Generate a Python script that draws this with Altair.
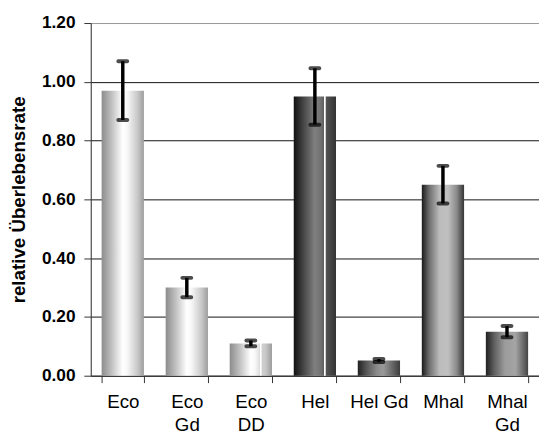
import altair as alt
import pandas as pd

# ---- data ----
categories = ["Eco", "Eco\nGd", "Eco\nDD", "Hel", "Hel Gd", "Mhal", "Mhal\nGd"]
values = [0.97, 0.30, 0.11, 0.95, 0.052, 0.65, 0.15]
errors = [0.10, 0.033, 0.010, 0.096, 0.005, 0.064, 0.019]
y_ticks = [0.0, 0.2, 0.4, 0.6, 0.8, 1.0, 1.2]

df = pd.DataFrame({
    "idx": list(range(len(categories))),
    "cat": categories,
    "val": values,
    "err": errors,
})
df["lo"] = df["val"] - df["err"]
df["hi"] = df["val"] + df["err"]


def grad(stops):
    return alt.Gradient(
        gradient="linear", x1=0, x2=1, y1=0, y2=0,
        stops=[alt.GradientStop(offset=o, color=c) for o, c in stops],
    )


light = [(0, "#8c8c8c"), (0.2, "#b8b8b8"), (0.5, "#ffffff"), (0.6, "#f8f8f8"),
         (0.85, "#c8c8c8"), (1, "#9c9c9c")]
light_stripe = [(0, "#8c8c8c"), (0.2, "#b8b8b8"), (0.5, "#ffffff"), (0.6, "#f8f8f8"),
                (0.72, "#dadada"), (0.725, "#ffffff"), (0.75, "#ffffff"),
                (0.755, "#d0d0d0"), (0.85, "#c8c8c8"), (1, "#9c9c9c")]
dark_stripe = [(0, "#111111"), (0.25, "#4a4a4a"), (0.5, "#808080"), (0.65, "#707070"),
               (0.72, "#5c5c5c"), (0.725, "#ffffff"), (0.75, "#ffffff"),
               (0.755, "#555555"), (1, "#333333")]
medium = [(0, "#202020"), (0.2, "#555555"), (0.45, "#8a8a8a"), (0.6, "#9a9a9a"),
          (0.85, "#606060"), (1, "#3c3c3c")]
mhal = [(0, "#1a1a1a"), (0.18, "#707070"), (0.42, "#bcbcbc"), (0.62, "#c0c0c0"),
        (0.82, "#8c8c8c"), (1, "#353535")]
mhal_gd = [(0, "#202020"), (0.2, "#606060"), (0.45, "#9c9c9c"), (0.7, "#a4a4a4"),
           (0.88, "#6c6c6c"), (1, "#444444")]
bar_styles = [light, light, light_stripe, dark_stripe, medium, mhal, mhal_gd]

font = "Liberation Sans"

x_enc = alt.X(
    "cat:N",
    sort=categories,
    scale=alt.Scale(domain=categories, paddingInner=0.34, paddingOuter=0.17),
    axis=alt.Axis(
        title=None,
        labelAngle=0,
        labelExpr="split(datum.label, '\\n')",
        labelFont=font,
        labelFontSize=19,
        labelColor="#000000",
        labelLineHeight=24,
        labelPadding=10,
        tickBand="extent",
        tickSize=7,
        tickColor="#333333",
        domainColor="#333333",
        grid=False,
    ),
)

y_scale = alt.Scale(domain=[0, 1.2], nice=False)

base = alt.Chart(df)

layers = []
for i, st in enumerate(bar_styles):
    layers.append(
        base.transform_filter(alt.datum.idx == i)
        .mark_bar(color=grad(st))
        .encode(
            x=x_enc,
            y=alt.Y(
                "val:Q",
                scale=y_scale,
                axis=alt.Axis(
                    title="relative Überlebensrate",
                    values=y_ticks,
                    format=".2f",
                    labelFont=font,
                    labelFontSize=17.5,
                    labelFontWeight="bold",
                    labelColor="#000000",
                    labelPadding=9,
                    tickSize=7,
                    tickColor="#333333",
                    domainColor="#333333",
                    titleFont=font,
                    titleFontSize=19,
                    titleFontWeight="bold",
                    titleColor="#000000",
                    titlePadding=13,
                    grid=True,
                    gridColor={"condition": {"test": "datum.value >= 1.19", "value": "#999999"},
                               "value": "#111111"},
                    gridWidth=1,
                ),
            ),
        )
    )

err_rule = base.mark_rule(color="#000000", strokeWidth=3.5).encode(
    x=x_enc, y=alt.Y("lo:Q", scale=y_scale), y2="hi:Q"
)
cap_lo = base.mark_tick(color="#000000", size=13, thickness=4, cornerRadius=2).encode(
    x=x_enc, y=alt.Y("lo:Q", scale=y_scale)
)
cap_hi = base.mark_tick(color="#000000", size=13, thickness=4, cornerRadius=2).encode(
    x=x_enc, y=alt.Y("hi:Q", scale=y_scale)
)

chart = (
    alt.layer(*layers, err_rule, cap_lo, cap_hi)
    .properties(
        width=455,
        height=358,
        autosize=alt.AutoSizeParams(type="none"),
        padding={"left": 84, "top": 12, "right": 0, "bottom": 63},
    )
    .configure_view(stroke=None)
    .configure(background="#ffffff")
)

chart.save("out.html", embed_options={"renderer": "svg", "actions": False})
